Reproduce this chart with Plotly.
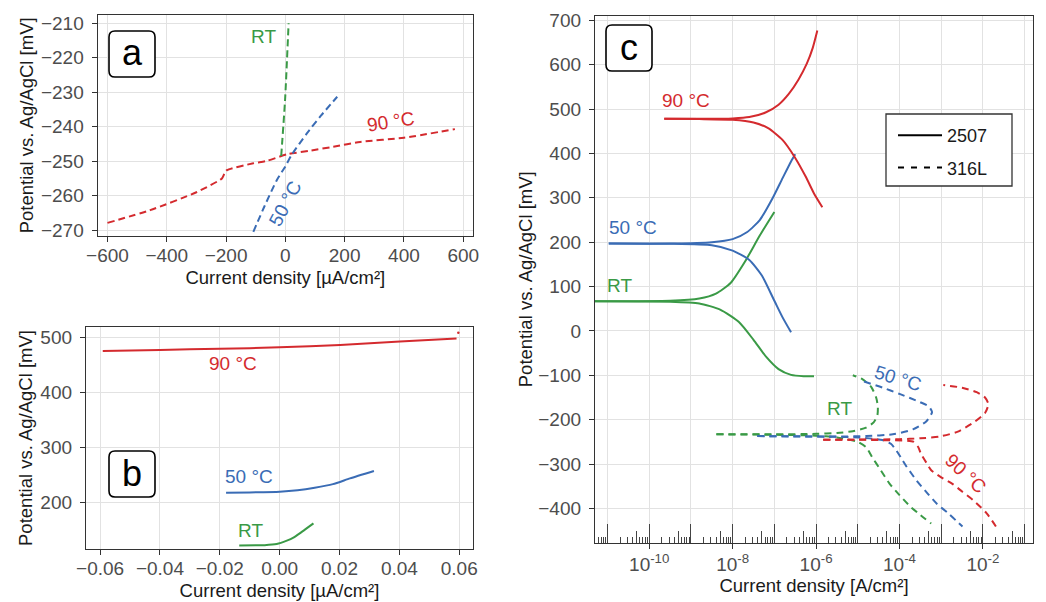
import numpy as np
import plotly.graph_objects as go

W, H = 1046, 602
RED, BLUE, GREEN = "#d42a2e", "#3a6cb5", "#3a9a46"
FONT = "Liberation Sans, Arial, sans-serif"

# ---------------- Panel a: 316L, linear, µA/cm² ----------------
a_rt_i = [-14, -1, 11]
a_rt_E = [-248.5, -232.3, -210]
a_50_i = [-108, -70, -29, 0, 21, 72, 120, 175]
a_50_E = [-270.5, -263, -255.5, -251.5, -248.2, -242, -236.8, -231.3]
a_90_i = [-600, -456, -300, -214, -205, -197, -108, -62, 5, 80, 162, 252, 400, 572]
a_90_E = [-267.9, -264.2, -259, -255, -253.5, -252.6, -250.6, -249.9, -248, -247, -245.8, -244.4, -243.2, -240.7]

# ---------------- Panel b: 2507, linear, µA/cm² ----------------
b_90_i = [-0.0591, -0.04, -0.02, 0.0, 0.0202, 0.0402, 0.0591]
b_90_E = [475, 476.9, 478.8, 481.5, 486, 492, 497.5]
b_90_dot_i = [0.0597]
b_90_dot_E = [508]
b_50_i = [-0.0179, -0.01, 0.0, 0.006, 0.0117, 0.0178, 0.0235, 0.0315]
b_50_E = [217, 217.5, 218.8, 221.5, 226, 232.5, 243, 256.5]
b_rt_i = [-0.0135, -0.005, -0.001, 0.0024, 0.0046, 0.0075, 0.0113]
b_rt_E = [121, 121.5, 123.5, 129.6, 135, 146, 161]

# ---------------- Panel c: log10 current density [A/cm²] ----------------
# 2507 (solid)
c90s_up_logi = [-9.64, -8.8, -8.0, -7.6, -7.2, -6.9, -6.65, -6.42, -6.22, -6.08, -5.97]
c90s_up_E = [478, 478, 479, 482, 493, 510, 535, 567, 603, 638, 677]
c90s_lo_logi = [-9.64, -8.8, -8.0, -7.5, -7.15, -6.8, -6.5, -6.25, -6.05, -5.85]
c90s_lo_E = [478, 477.5, 476, 470, 457, 430, 390, 348, 310, 279]
c50s_up_logi = [-10.97, -9.5, -8.5, -8.0, -7.65, -7.35, -7.05, -6.8, -6.6, -6.5]
c50s_up_E = [197, 197, 200, 207, 223, 250, 298, 345, 382, 398]
c50s_lo_logi = [-10.97, -9.5, -8.5, -8.0, -7.6, -7.3, -7.0, -6.8, -6.6]
c50s_lo_E = [197, 196.5, 193, 181, 160, 125, 68, 30, -3]
crts_up_logi = [-11.3, -9.5, -8.8, -8.4, -8.05, -7.7, -7.35, -7.0]
crts_up_E = [67, 68, 73, 84, 108, 157, 215, 268]
crts_lo_logi = [-11.3, -9.5, -8.8, -8.3, -7.85, -7.5, -7.2, -6.9, -6.6, -6.3, -6.05]
crts_lo_E = [67, 66, 62, 48, 20, -20, -58, -86, -99, -102, -102]
# 316L (dashed)
crtd_up_logi = [-8.39, -7.0, -6.0, -5.5, -5.12, -4.8, -4.62, -4.53, -4.52, -4.56, -4.68, -4.9, -5.12]
crtd_up_E = [-233, -233, -232, -230, -226, -218, -206, -190, -170, -150, -126, -108, -100]
crtd_lo_logi = [-8.39, -7.0, -6.0, -5.5, -5.0, -4.8, -4.66, -4.45, -4.24, -4.0, -3.74, -3.5, -3.24]
crtd_lo_E = [-233, -234, -236, -240, -250, -262, -284, -314, -344, -370, -396, -415, -434]
c50d_up_logi = [-7.41, -6.4, -5.5, -4.8, -4.16, -3.68, -3.36, -3.22, -3.3, -3.52, -4.0, -4.4, -4.85]
c50d_up_E = [-237, -238, -238, -237, -233, -222, -204, -183, -170, -160, -142, -128, -114]
c50d_lo_logi = [-7.41, -6.0, -5.0, -4.41, -4.2, -4.08, -3.95, -3.83, -3.6, -3.33, -3.1, -2.83, -2.65, -2.49]
c50d_lo_E = [-237, -238, -240, -246, -255, -269, -288, -306, -336, -366, -390, -411, -427, -441]
c90d_up_logi = [-5.83, -5.0, -4.0, -3.5, -3.04, -2.6, -2.2, -1.95, -1.87, -1.95, -2.15, -2.5, -2.95]
c90d_up_E = [-245, -245, -244, -242, -238, -227, -205, -185, -165, -150, -138, -128, -122]
c90d_lo_logi = [-5.83, -4.5, -3.66, -3.55, -3.49, -3.35, -3.24, -3.0, -2.74, -2.5, -2.24, -1.91, -1.66]
c90d_lo_E = [-245, -246, -250, -262, -276, -298, -314, -330, -344, -362, -381, -411, -445]

a_xticks = [-600, -400, -200, 0, 200, 400, 600]
a_yticks = [-270, -260, -250, -240, -230, -220, -210]
b_xticks = [-0.06, -0.04, -0.02, 0.0, 0.02, 0.04, 0.06]
b_yticks = [200, 300, 400, 500]
c_yticks = [-400, -300, -200, -100, 0, 100, 200, 300, 400, 500, 600, 700]
c_labeled = [-10, -8, -6, -4, -2]
c_unlabeled = [-11, -9, -7, -5, -3, -1]
c_decades = list(range(-12, 0))

fig = go.Figure()


def add(x, y, color, dash, xa, ya, width=2.0):
    fig.add_trace(go.Scatter(x=x, y=y, mode="lines", xaxis=xa, yaxis=ya,
                             line=dict(color=color, width=width, dash=dash, shape="spline", smoothing=0.6),
                             showlegend=False, hoverinfo="skip"))


DA = "7px,4px"
DC = "7px,5px"
add(a_90_i, a_90_E, RED, DA, "x", "y")
add(a_50_i, a_50_E, BLUE, DA, "x", "y")
add(a_rt_i, a_rt_E, GREEN, DA, "x", "y")

add(b_90_i, b_90_E, RED, "solid", "x2", "y2")
fig.add_trace(go.Scatter(x=b_90_dot_i, y=b_90_dot_E, mode="markers", xaxis="x2", yaxis="y2",
                         marker=dict(color=RED, size=2.5), showlegend=False, hoverinfo="skip"))
add(b_50_i, b_50_E, BLUE, "solid", "x2", "y2")
add(b_rt_i, b_rt_E, GREEN, "solid", "x2", "y2")

p = lambda v: (10.0 ** np.array(v)).tolist()
for lx, ly, col in [(crtd_up_logi, crtd_up_E, GREEN), (crtd_lo_logi, crtd_lo_E, GREEN),
                    (c50d_up_logi, c50d_up_E, BLUE), (c50d_lo_logi, c50d_lo_E, BLUE),
                    (c90d_up_logi, c90d_up_E, RED), (c90d_lo_logi, c90d_lo_E, RED)]:
    add(p(lx), ly, col, DC, "x3", "y3")
for lx, ly, col in [(crts_up_logi, crts_up_E, GREEN), (crts_lo_logi, crts_lo_E, GREEN),
                    (c50s_up_logi, c50s_up_E, BLUE), (c50s_lo_logi, c50s_lo_E, BLUE),
                    (c90s_up_logi, c90s_up_E, RED), (c90s_lo_logi, c90s_lo_E, RED)]:
    add(p(lx), ly, col, "solid", "x3", "y3")

# legend entries
fig.add_trace(go.Scatter(x=[None], y=[None], mode="lines", xaxis="x3", yaxis="y3", name="2507",
                         legendgroup="g1", line=dict(color="black", width=2)))
fig.add_trace(go.Scatter(x=[None], y=[None], mode="lines", xaxis="x3", yaxis="y3", name="316L",
                         legendgroup="g2", line=dict(color="black", width=2, dash="6px,7px")))
# dummy traces binding the overlay log-tick axes
for xa in ("x4", "x5"):
    fig.add_trace(go.Scatter(x=[None], y=[None], mode="lines", xaxis=xa, yaxis="y3",
                             showlegend=False, hoverinfo="skip"))

tickfont = dict(family=FONT, size=19, color="#4d4d4d")
titlefont = dict(family=FONT, size=18.5, color="#1a1a1a")
GRID = "#e2e2e2"
BORDER = "#333333"


def px_x(v):
    return v / W


def px_y(v):
    return 1 - v / H


base = dict(showline=True, linecolor=BORDER, linewidth=1.3, mirror=True, gridcolor=GRID, gridwidth=1,
            zeroline=False, ticks="outside", ticklen=5, tickcolor=BORDER, tickfont=tickfont, automargin=False)
xcommon = dict(base, ticklabelstandoff=-3)
ycommon = dict(base, ticklabelstandoff=4)

C_DOM = [px_x(595), px_x(1033)]
C_RNG = [-11.3, -0.8]

fig.update_layout(
    width=W, height=H, margin=dict(l=0, r=0, t=0, b=0, autoexpand=False),
    paper_bgcolor="white", plot_bgcolor="white",
    font=dict(family=FONT),
    xaxis=dict(domain=[px_x(97.7), px_x(473)], anchor="y", range=[-633, 633], tickmode="array",
               tickvals=a_xticks, title=dict(text="Current density [µA/cm²]", font=titlefont, standoff=6), **xcommon),
    yaxis=dict(domain=[px_y(236), px_y(14.7)], anchor="x", range=[-271.7, -207.5], tickmode="array",
               tickvals=a_yticks, title=dict(text="Potential vs. Ag/AgCl [mV]", font=titlefont, standoff=2), **ycommon),
    xaxis2=dict(domain=[px_x(86), px_x(473)], anchor="y2", range=[-0.0647, 0.0646], tickmode="array",
                tickvals=b_xticks, tickformat=".2f",
                title=dict(text="Current density [µA/cm²]", font=titlefont, standoff=6), **xcommon),
    yaxis2=dict(domain=[px_y(548.7), px_y(327.3)], anchor="x2", range=[115, 518], tickmode="array",
                tickvals=b_yticks, title=dict(text="Potential vs. Ag/AgCl [mV]", font=titlefont, standoff=2), **ycommon),
    xaxis3=dict(type="log", domain=C_DOM, anchor="y3", range=C_RNG,
                tickmode="array", tickvals=[10.0 ** d for d in c_labeled],
                ticktext=[f"10<sup>{d}</sup>" for d in c_labeled],
                showline=True, linecolor=BORDER, linewidth=1.3, mirror=True, gridcolor=GRID, zeroline=False,
                ticks="outside", ticklen=5, tickcolor=BORDER, tickfont=tickfont, ticklabelstandoff=-1,
                automargin=False,
                minor=dict(tickmode="array", tickvals=[10.0 ** d for d in c_unlabeled],
                           ticks="", showgrid=True, gridcolor=GRID),
                title=dict(text="Current density [A/cm²]", font=titlefont, standoff=4)),
    xaxis4=dict(type="log", overlaying="x3", anchor="y3", domain=C_DOM, range=C_RNG,
                tickmode="array", tickvals=[10.0 ** d for d in c_decades], ticks="inside", ticklen=19,
                tickcolor="#444", showticklabels=False, showgrid=False, showline=False, zeroline=False,
                automargin=False,
                minor=dict(tickmode="array",
                           tickvals=[k * 10.0 ** d for d in c_decades for k in (2, 3, 4, 6, 7, 8, 9)],
                           ticks="inside", ticklen=6, tickcolor="#444", showgrid=False)),
    xaxis5=dict(type="log", overlaying="x3", anchor="y3", domain=C_DOM, range=C_RNG,
                tickmode="array", tickvals=[5 * 10.0 ** d for d in c_decades], ticks="inside", ticklen=12,
                tickcolor="#444", showticklabels=False, showgrid=False, showline=False, zeroline=False,
                automargin=False),
    yaxis3=dict(domain=[px_y(543), px_y(15.5)], anchor="x3", range=[-478, 711], tickmode="array",
                tickvals=c_yticks, title=dict(text="Potential vs. Ag/AgCl [mV]", font=titlefont, standoff=0), **ycommon),
    legend=dict(x=px_x(893), y=px_y(117), xanchor="left", yanchor="top", bgcolor="rgba(0,0,0,0)",
                borderwidth=0, font=dict(family=FONT, size=18, color="#1a1a1a"),
                itemwidth=44, tracegroupgap=6),
)

# legend frame (layout decoration)
fig.add_shape(type="rect", xref="paper", yref="paper", x0=px_x(886), x1=px_x(1012), y0=px_y(186), y1=px_y(114),
              line=dict(color=BORDER, width=1.3), fillcolor="white", layer="above")


# curve labels
def lab(text, x, y, color, xa, ya, angle=0):
    fig.add_annotation(text=text, x=x, y=y, xref=xa, yref=ya, showarrow=False, textangle=angle,
                       xanchor="center", yanchor="middle",
                       font=dict(family=FONT, size=19, color=color))


lab("RT", -75, -213.9, GREEN, "x", "y")
lab("90 °C", 358, -238.6, RED, "x", "y", -9)
lab("50 °C", -1, -262.2, BLUE, "x", "y", -62)
lab("90 °C", -0.0155, 451.4, RED, "x2", "y2")
lab("50 °C", -0.0101, 246, BLUE, "x2", "y2")
lab("RT", -0.0099, 149, GREEN, "x2", "y2")
lab("90 °C", -9.12, 519.5, RED, "x3", "y3")
lab("50 °C", -10.38, 234, BLUE, "x3", "y3")
lab("RT", -10.72, 103, GREEN, "x3", "y3")
lab("50 °C", -4.03, -107, BLUE, "x3", "y3", 17)
lab("RT", -5.45, -175, GREEN, "x3", "y3")
lab("90 °C", -2.41, -321, RED, "x3", "y3", 43)


# rounded panel-letter boxes (layout decoration, pixel geometry)
def rbox(x0, y0, x1, y1, r=6):
    def P(x, y):
        return f"{px_x(x):.5f},{px_y(y):.5f}"
    d = (f"M {P(x0 + r, y0)} L {P(x1 - r, y0)} Q {P(x1, y0)} {P(x1, y0 + r)} "
         f"L {P(x1, y1 - r)} Q {P(x1, y1)} {P(x1 - r, y1)} L {P(x0 + r, y1)} "
         f"Q {P(x0, y1)} {P(x0, y1 - r)} L {P(x0, y0 + r)} Q {P(x0, y0)} {P(x0 + r, y0)} Z")
    fig.add_shape(type="path", path=d, xref="paper", yref="paper",
                  line=dict(color="black", width=1.6), fillcolor="white", layer="above")


for letter, (x0, y0) in {"a": (109, 31), "b": (109, 451), "c": (606, 25)}.items():
    rbox(x0, y0, x0 + 46, y0 + 46)
    fig.add_annotation(text=letter, x=px_x(x0 + 23), y=px_y(y0 + 22), xref="paper", yref="paper",
                       xanchor="center", yanchor="middle", showarrow=False,
                       font=dict(family=FONT, size=36, color="black"))

fig.write_html("out.html", config={"displayModeBar": False},
               post_script="document.body.style.margin='0';document.body.style.overflow='hidden';")
